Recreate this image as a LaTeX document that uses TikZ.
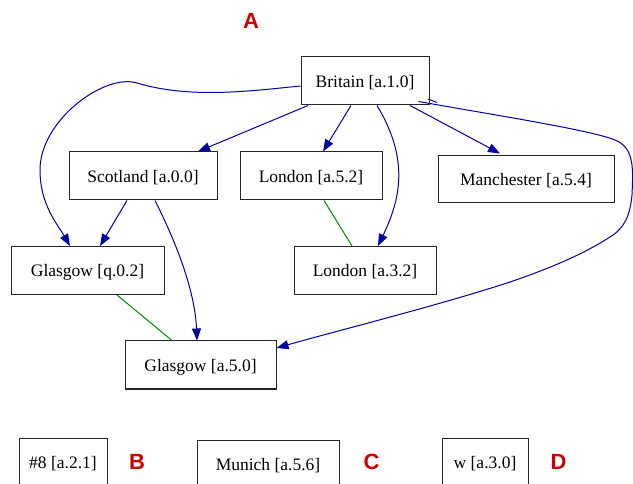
\documentclass[tikz,border=0pt]{standalone}
\usepackage{fontspec}
\setmainfont{Liberation Serif}
\newfontfamily\labfont{Liberation Sans}
\usetikzlibrary{arrows.meta}
\definecolor{edgeblue}{RGB}{0,0,160}
\definecolor{edgegreen}{RGB}{0,136,0}
\definecolor{labred}{RGB}{204,0,0}
\tikzset{
  box/.style={draw=black!85, line width=1pt, minimum height=48pt, inner sep=0pt, fill=white,
    text depth=0pt, font=\fontsize{17.5}{20}\selectfont},
  lab/.style={text=labred, inner sep=0pt, font=\labfont\bfseries\fontsize{22}{24}\selectfont},
  arr/.style={draw=edgeblue, line width=1pt, -{Triangle[length=12pt,width=9pt]}},
  plain/.style={draw=edgegreen, line width=1pt},
}
\begin{document}
\begin{tikzpicture}[x=1pt,y=-1pt]
\useasboundingbox (0,0) rectangle (633,484);
% nodes
\node[box, minimum width=128pt] (britain) at (365,81) {Britain [a.1.0]};
\node[box, minimum width=148pt] (scotland) at (143,176) {Scotland [a.0.0]};
\node[box, minimum width=142pt] (london52) at (311,176) {London [a.5.2]};
\node[box, minimum width=176pt, minimum height=47pt] (manchester) at (526,179.5) {Manchester [a.5.4]};
\node[box, minimum width=153pt] (glasgowq) at (87.5,270.5) {Glasgow [q.0.2]};
\node[box, minimum width=142pt] (london32) at (365,270.5) {London [a.3.2]};
\node[box, minimum width=151pt] (glasgow50) at (200.5,365) {Glasgow [a.5.0]};
\node[box, minimum width=88pt] (n8) at (63,462) {\#8 [a.2.1]};
\node[box, minimum width=142pt] (munich) at (268,464) {Munich [a.5.6]};
\node[box, minimum width=86pt] (w) at (485,462) {w [a.3.0]};
% labels
\node[lab] (lA) at (251,21) {A};
\node[lab] (lB) at (137,462) {B};
\node[lab] (lC) at (371.5,462) {C};
\node[lab] (lD) at (558.5,462) {D};
% helper coordinates
\coordinate (bs) at ([xshift=-11pt,yshift=4pt]britain.south east);
% blue edges
\draw[arr] ([xshift=-57pt]britain.south) -- ([xshift=55pt]scotland.north);
\draw[arr] ([xshift=-14pt]britain.south) -- ([xshift=12pt]london52.north);
\draw[arr] ([xshift=12pt]britain.south) .. controls (410,160) and (400,200) .. ([xshift=13pt]london32.north);
\draw[arr] ([xshift=45pt]britain.south) -- ([xshift=-26pt,yshift=2pt]manchester.north);
\draw[arr] ([yshift=-5pt]britain.west) .. controls (250,91) and (190,99) .. (137,83)
   .. controls (105,73) and (40,120) .. (40,170)
   .. controls (40,205) and (58,225) .. ([xshift=-17.5pt]glasgowq.north);
\draw[arr] (bs) .. controls (500,116) and (590,130) .. (615,140)
   .. controls (635,148) and (633,170) .. (632,195)
   .. controls (630,215) and (625,228) .. (610,237)
   .. controls (590,250) and (560,265) .. (510,282)
   .. controls (440,305) and (340,330) .. ([yshift=17pt]glasgow50.east);
\draw[draw=edgeblue, line width=1pt] (428,99) -- (437,102.5);
\draw[arr] ([xshift=-16pt]scotland.south) -- ([xshift=12.5pt]glasgowq.north);
\draw[arr] ([xshift=12pt]scotland.south) .. controls (175,240) and (195,290) .. ([xshift=-3.5pt]glasgow50.north);
% green edges
\draw[plain] ([xshift=13pt]london52.south) -- ([xshift=-13pt]london32.north);
\draw[plain] ([xshift=29.5pt]glasgowq.south) -- ([xshift=-28.5pt]glasgow50.north);
\end{tikzpicture}
\end{document}
